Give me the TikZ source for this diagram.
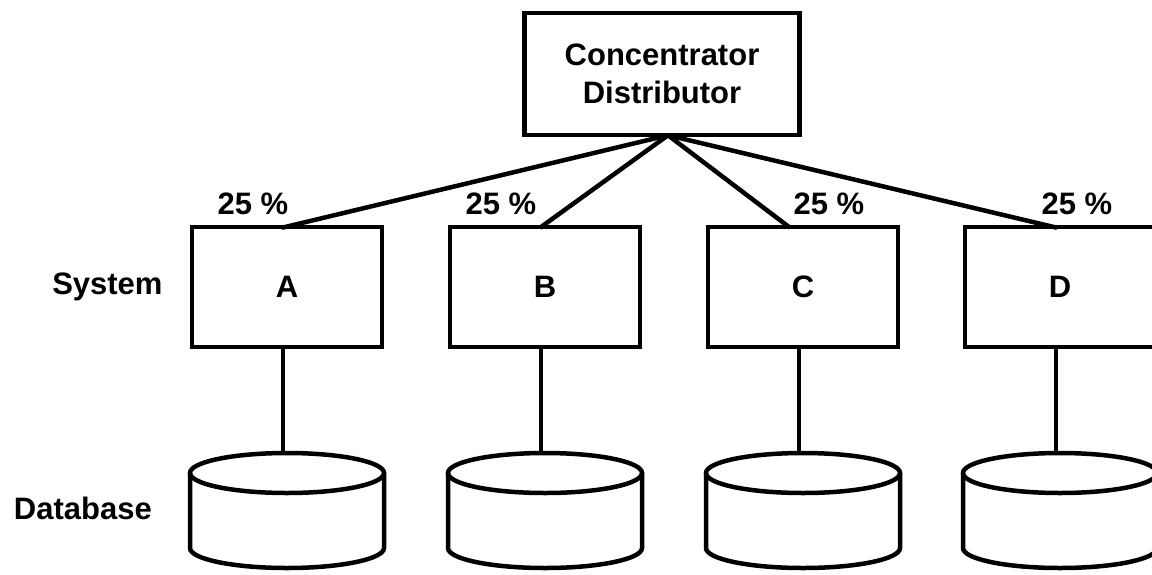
\documentclass[tikz,border=0pt]{standalone}
\usepackage{fontspec}
\setmainfont{Liberation Sans}
\usetikzlibrary{positioning}
% database drum: #1 name of its top point, #2 centre x
\newcommand{\drum}[2]{%
	\coordinate (#1) at ({#2-4},453);
	\draw[dbstore] (#2,473) ellipse [x radius=97, y radius=20];
	\draw[dbstore] ({#2-97},473) -- ({#2-97},548) arc[start angle=180, end angle=0, x radius=97, y radius=20] -- ({#2+97},473);
}

\begin{document}
\begin{tikzpicture}[
	x=1pt, y=-1pt,
	font=\bfseries\fontsize{31}{38}\selectfont,
	% Styles for the blocks and the labels
	hubblock/.style={draw, line width=4.5pt, minimum width=275pt, minimum height=122pt, align=center},
	sysblock/.style={draw, line width=4.5pt, minimum width=190pt, minimum height=120pt},
	dbstore/.style={line width=4.5pt},
	labeltext/.style={inner sep=0pt},
	pcttext/.style={inner sep=0pt, anchor=base},
	link/.style={line width=4.5pt}
	]
	\useasboundingbox (0,0) rectangle (1152,574);
	
	% ==========================================
	% 1. CONCENTRATOR / DISTRIBUTOR
	% ==========================================
	\node[hubblock] (hub) at (662,74) {Concentrator\\Distributor};
	\coordinate (fan) at ([xshift=6pt,yshift=2pt]hub.south);
	
	% ==========================================
	% 2. SYSTEMS
	% ==========================================
	\node[sysblock] (sysA) at (287,287) {A};
	\node[sysblock] (sysB) at (545,287) {B};
	\node[sysblock] (sysC) at (803,287) {C};
	\node[sysblock] (sysD) at (1060,287) {D};
	\node[labeltext, left=27pt of sysA] (syslabel) {System};
	
	% Share of each system
	\node[pcttext] (pctA) at ([xshift=-34pt,yshift=10pt]sysA.north) {25 \%};
	\node[pcttext] (pctB) at ([xshift=-44pt,yshift=10pt]sysB.north) {25 \%};
	\node[pcttext] (pctC) at ([xshift=26pt,yshift=10pt]sysC.north) {25 \%};
	\node[pcttext] (pctD) at ([xshift=17pt,yshift=10pt]sysD.north) {25 \%};
	
	% Fan out from the distributor
	\draw[link] (fan) -- ([xshift=-5pt,yshift=-3pt]sysA.north);
	\draw[link] (fan) -- ([xshift=-5pt,yshift=-3pt]sysB.north);
	\draw[link] (fan) -- ([xshift=-13pt,yshift=-3pt]sysC.north);
	\draw[link] (fan) -- ([xshift=-3pt,yshift=-3pt]sysD.north);
	
	% ==========================================
	% 3. DATABASES
	% ==========================================
	\drum{dbA}{287}
	\drum{dbB}{545}
	\drum{dbC}{803}
	\drum{dbD}{1060}
	\node[labeltext, anchor=east] (dblabel) at (152,508) {Database};
	
	\draw[link] ([xshift=-4pt]sysA.south) -- (dbA);
	\draw[link] ([xshift=-4pt]sysB.south) -- (dbB);
	\draw[link] ([xshift=-4pt]sysC.south) -- (dbC);
	\draw[link] ([xshift=-4pt]sysD.south) -- (dbD);
	
\end{tikzpicture}
\end{document}
